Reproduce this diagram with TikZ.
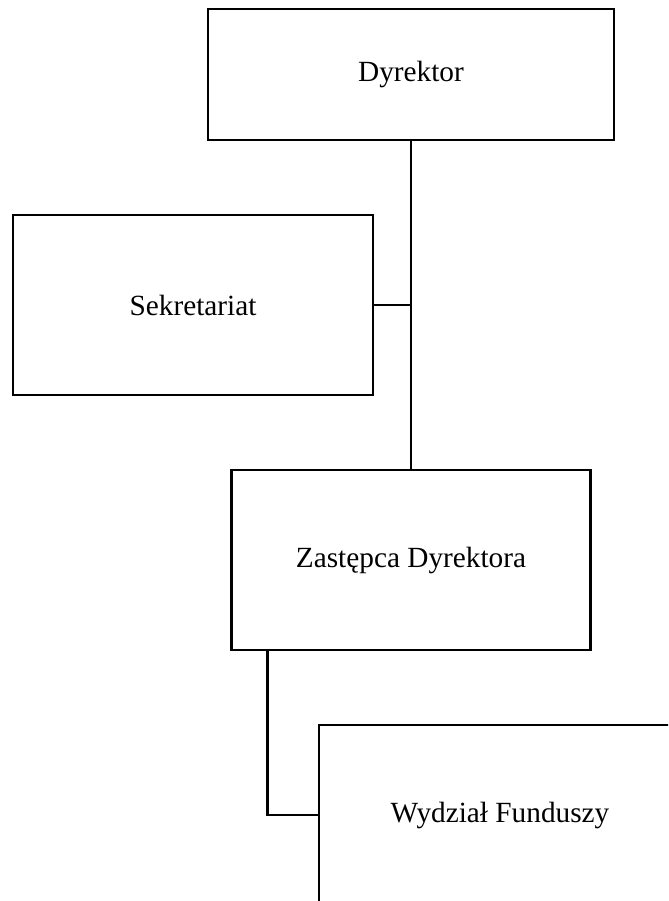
\documentclass[tikz,border=0pt]{standalone}
\usepackage{fontspec}
\setmainfont{Liberation Serif}
\usetikzlibrary{positioning, calc}

\begin{document}
\begin{tikzpicture}[
		x=0.03cm, y=-0.03cm,
		line width=2.1pt,
		% Box Styles
		unit_box/.style={rectangle, draw=black, fill=white, inner sep=0pt, outer sep=0pt, align=center, font=\fontsize{25}{28}\selectfont},
		head_box/.style={unit_box, minimum width=12.18cm, minimum height=3.93cm},
		dept_box/.style={unit_box, minimum width=10.8cm, minimum height=5.4cm},
		% Line Styles
		link_line/.style={draw=black, line cap=rect}
		]
		
		% --- page frame ---
		\clip (0,0) rectangle (668,901);
		
		% --- 1. TOP LEVEL ---
		\node[head_box] (Dyrektor) at (411,74.5) {Dyrektor};
		\node[dept_box] (Sekretariat) at (193,305) {Sekretariat};
		
		% --- 2. DEPUTY ---
		\node[dept_box, minimum width=10.77cm] (Zastepca) at (411,560) {Zastępca Dyrektora};
		
		% --- 3. DEPARTMENT ---
		\node[dept_box, minimum width=10.86cm] (Wydzial) at (500,815) {Wydział Funduszy};
		
		% ================= LINKS =================
		\coordinate (zd_out) at ($(Zastepca.south west)!0.1!(Zastepca.south east)$);
		
		\draw[link_line] (Dyrektor.south) -- (Zastepca.north);
		\draw[link_line] (Sekretariat.east) -- (Dyrektor.south |- Sekretariat.east);
		\draw[link_line] (zd_out) |- (Wydzial.west);
		
	\end{tikzpicture}
\end{document}
